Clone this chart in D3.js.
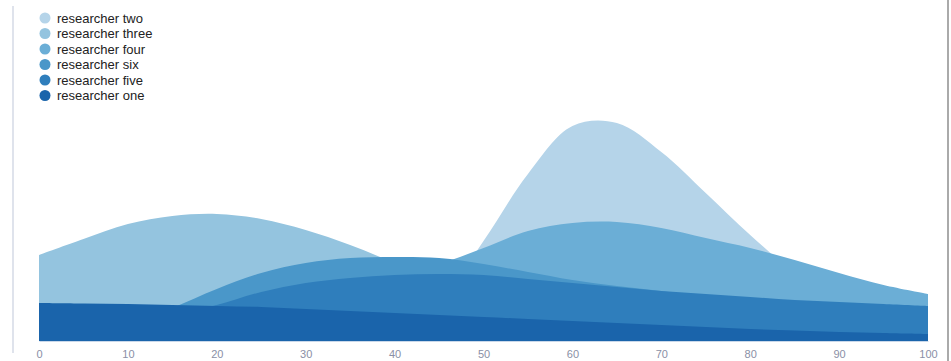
<!DOCTYPE html>
<html>
<head>
<meta charset="utf-8">
<script src="https://cdn.jsdelivr.net/npm/d3@7"></script>
<style>
  body { margin: 0; background: #fff; }
  svg { display: block; }
</style>
</head>
<body>
<svg width="951" height="361"></svg>
<script>
// x positions (0..100, step 5)
var xs = [0, 5, 10, 15, 20, 25, 30, 35, 40, 45, 50, 55, 60, 65, 70, 75, 80, 85, 90, 95, 100];

// series, drawn back to front, same order as legend
var names = ["researcher two", "researcher three", "researcher four", "researcher six", "researcher five", "researcher one"];
var colors = ["#b5d4e9", "#94c4df", "#6baed6", "#4a97c9", "#2f7ebc", "#1a64ab"];

var researcherTwo   = [0, 0, 0, 1, 2, 3, 5, 8, 15, 40, 100, 167, 215, 218, 189, 148, 106, 68, 38, 18, 8];
var researcherThree = [86, 102, 117, 125, 127, 122, 111, 96, 78, 60, 44, 30, 20, 13, 8, 5, 3, 2, 1, 1, 0];
var researcherFour  = [5, 8, 12, 18, 25, 35, 46, 57, 68, 77, 93, 110, 118, 119, 113, 103, 93, 81, 68, 56, 47];
var researcherSix   = [4, 8, 15, 33, 52, 68, 78, 83, 84, 83, 77, 69, 61, 55, 50, 44, 38, 33, 28, 24, 20];
var researcherFive  = [5, 10, 17, 26, 36, 49, 58, 63, 66, 67, 66, 62, 58, 54, 50, 47, 44, 41, 39, 37, 35];
var researcherOne   = [38, 37.5, 37, 36, 35, 34, 32, 30, 28, 26, 24, 22, 20, 18, 16, 14, 12, 10.5, 9, 8, 7];

var series = [researcherTwo, researcherThree, researcherFour, researcherSix, researcherFive, researcherOne];

var svg = d3.select("svg");

// frame lines
svg.append("line")
    .attr("x1", 13).attr("x2", 13).attr("y1", 6).attr("y2", 353)
    .attr("stroke", "#dfe3ec").attr("stroke-width", 2);
svg.append("line")
    .attr("x1", 948).attr("x2", 948).attr("y1", 0).attr("y2", 361)
    .attr("stroke", "#aaaaaa").attr("stroke-width", 2);

var x = d3.scaleLinear().domain([0, 100]).range([39, 928]);
var y = d3.scaleLinear().domain([0, 250]).range([341, 91]);

var area = d3.area()
    .curve(d3.curveCatmullRom.alpha(0.5))
    .x(function(d, i) { return x(xs[i]); })
    .y0(y(0))
    .y1(function(d) { return y(Math.max(0, d)); });

svg.append("g")
  .selectAll("path")
  .data(series)
  .enter().append("path")
    .attr("d", area)
    .attr("fill", function(d, i) { return colors[i]; });

// axis
var xAxis = svg.append("g")
    .attr("transform", "translate(0," + 341 + ")")
    .call(d3.axisBottom(x).tickValues(d3.range(0, 101, 10)).tickSize(0).tickPadding(9));
xAxis.select(".domain").attr("stroke", "#c9d8ea");
xAxis.selectAll("text")
    .attr("fill", "#8a8fa6")
    .style("font-family", "Liberation Sans, Arial, sans-serif")
    .style("font-size", "11px");

// legend
var legend = svg.append("g").attr("class", "legend")
  .selectAll("g")
  .data(names)
  .enter().append("g")
    .attr("transform", function(d, i) { return "translate(45," + (18 + i * 15.5) + ")"; });

legend.append("circle")
    .attr("r", 5.5)
    .attr("fill", function(d, i) { return colors[i]; });

legend.append("text")
    .attr("x", 12)
    .attr("dy", "0.35em")
    .style("font-family", "Liberation Sans, Arial, sans-serif")
    .style("font-size", "13px")
    .attr("fill", "#222")
    .text(function(d) { return d; });
</script>
</body>
</html>
